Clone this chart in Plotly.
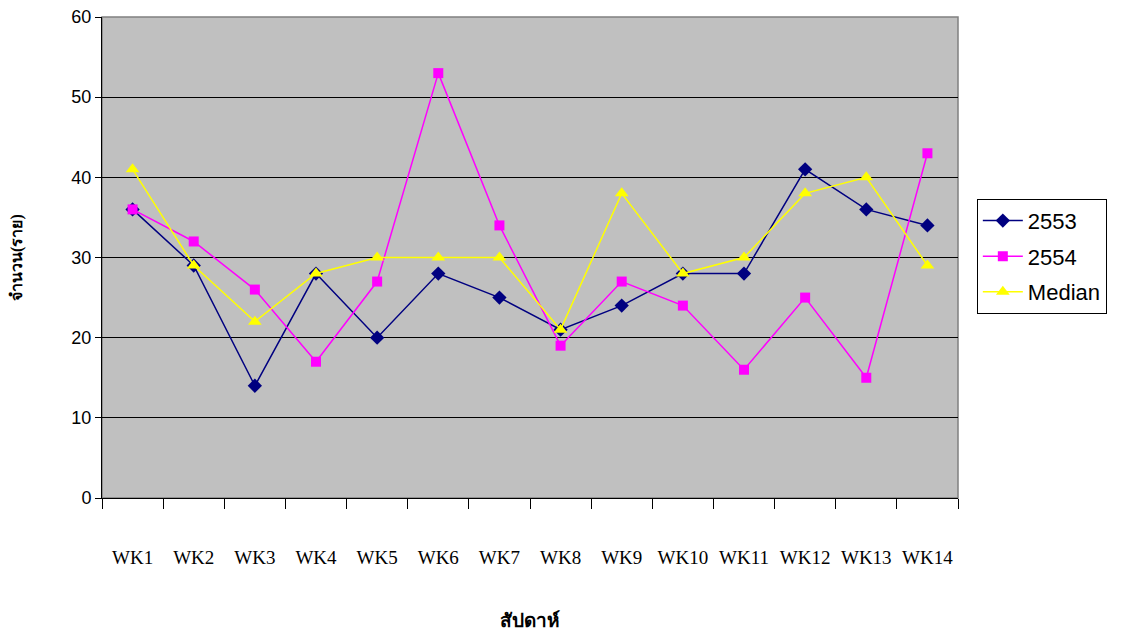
import plotly.graph_objects as go

weeks = ["WK1", "WK2", "WK3", "WK4", "WK5", "WK6", "WK7", "WK8", "WK9", "WK10", "WK11", "WK12", "WK13", "WK14"]
y2553 = [36, 29, 14, 28, 20, 28, 25, 21, 24, 28, 28, 41, 36, 34]
y2554 = [36, 32, 26, 17, 27, 53, 34, 19, 27, 24, 16, 25, 15, 43]
median = [41, 29, 22, 28, 30, 30, 30, 21, 38, 28, 30, 38, 40, 29]

fig = go.Figure()
fig.add_trace(go.Scatter(x=weeks, y=y2553, name="2553", mode="lines+markers", legendgroup="a",
                         line=dict(color="#000080", width=1.5),
                         marker=dict(symbol="diamond", size=11, color="#000080")))
fig.add_trace(go.Scatter(x=weeks, y=y2554, name="2554", mode="lines+markers", legendgroup="b",
                         line=dict(color="#FF00FF", width=1.5),
                         marker=dict(symbol="square", size=10, color="#FF00FF")))
fig.add_trace(go.Scatter(x=weeks, y=median, name="Median", mode="lines+markers", legendgroup="c",
                         line=dict(color="#FFFF00", width=1.5),
                         marker=dict(symbol="triangle-up", size=12, color="#FFFF00")))

fig.update_layout(
    width=1122, height=639,
    margin=dict(l=102, r=164, t=17, b=141),
    paper_bgcolor="white", plot_bgcolor="#C0C0C0",
    font=dict(family="Liberation Sans, Arial", color="black"),
    showlegend=True,
    legend=dict(x=1.022, y=0.622, xanchor="left", yanchor="top",
                bordercolor="black", borderwidth=1, bgcolor="white",
                font=dict(size=22, family="Liberation Sans, Arial"),
                itemwidth=40, tracegroupgap=4),
    xaxis=dict(type="category", tickson="boundaries", ticks="outside", ticklen=10,
               tickcolor="black", showline=True, linecolor="black", linewidth=1,
               showgrid=False, tickfont=dict(family="Liberation Serif, Times New Roman", size=19),
               ticklabelstandoff=42, range=[-0.5, 13.5], automargin=False),
    yaxis=dict(range=[0, 60], dtick=10, ticks="outside", ticklen=6, tickcolor="black",
               showline=True, linecolor="black", linewidth=1, ticklabeloverflow="allow",
               showgrid=True, gridcolor="black", gridwidth=1, automargin=False,
               tickfont=dict(size=18, family="Liberation Sans, Arial"), zeroline=False),
    annotations=[
        dict(text="<b>สัปดาห์</b>", xref="paper", yref="paper", x=0.5, y=-0.255,
             xanchor="center", yanchor="middle", showarrow=False,
             font=dict(size=19, family="Liberation Serif, Noto Sans, serif")),
        dict(text="<b>จำนวน(ราย)</b>", xref="paper", yref="paper", x=-0.1, y=0.5,
             xanchor="center", yanchor="middle", showarrow=False, textangle=-90,
             font=dict(size=16, family="Liberation Serif, Noto Sans, serif")),
    ],
    shapes=[dict(type="rect", xref="paper", yref="paper", x0=0, y0=0, x1=1, y1=1,
                 line=dict(color="#808080", width=1.5), layer="below")],
)

fig.write_html("out.html", config={"displayModeBar": False},
               post_script="document.body.style.margin='0';")
